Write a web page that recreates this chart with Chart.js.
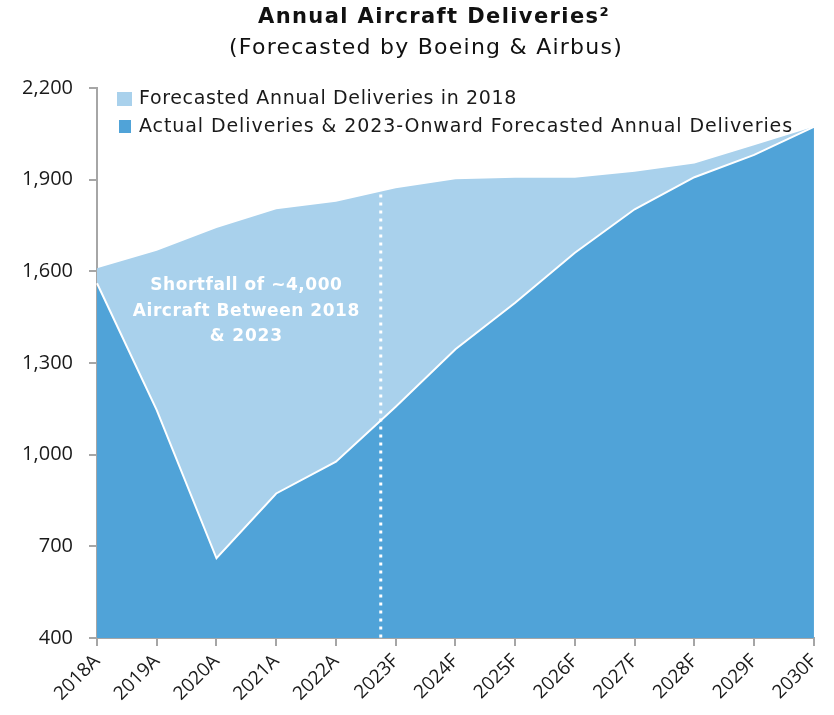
<!DOCTYPE html>
<html>
<head>
<meta charset="utf-8">
<script src="https://cdn.jsdelivr.net/npm/chart.js@4.4.0/dist/chart.umd.min.js"></script>
<style>
  body { margin: 0; background: #fff; }
  #wrap { width: 834px; height: 715px; position: relative; }
</style>
</head>
<body>
<div id="wrap"><canvas id="deliveriesChart"></canvas></div>
<script>
// Chart data
const years = ['2018A', '2019A', '2020A', '2021A', '2022A', '2023F', '2024F',
               '2025F', '2026F', '2027F', '2028F', '2029F', '2030F'];
const forecast2018 = [1610, 1667, 1742, 1803, 1828, 1872, 1901, 1906, 1906, 1926, 1953, 2013, 2073];
const actualAndOnward = [1561, 1146, 661, 873, 977, 1157, 1345, 1497, 1661, 1803, 1908, 1981, 2073];
const yMin = 400;
const yMax = 2200;
const yStep = 300;

const titleText = 'Annual Aircraft Deliveries\u00B2';
const subtitleText = '(Forecasted by Boeing & Airbus)';
const legendLabels = ['Forecasted Annual Deliveries in 2018',
                      'Actual Deliveries & 2023-Onward Forecasted Annual Deliveries'];
const noteLines = ['Shortfall of ~4,000', 'Aircraft Between 2018', '& 2023'];
const cutoffIndex = 4.75;   // dotted marker between 2022A and 2023F

const lightBlue = '#A9D1EC';
const darkBlue = '#50A3D8';
const axisGray = '#A6A6A6';
const fontFamily = "'Open Sans', 'DejaVu Sans', sans-serif";
const wideFamily = "'DejaVu Sans', 'Open Sans', sans-serif";

// draw text nudged (via letter spacing) to the width it has in the reference
function fitText(ctx, text, x, y, width, align) {
    ctx.letterSpacing = '0px';
    const natural = ctx.measureText(text).width;
    ctx.letterSpacing = ((width - natural) / text.length) + 'px';
    const left = align === 'center' ? x - width / 2 : x;
    ctx.textAlign = 'left';
    ctx.fillText(text, left, y);
    ctx.letterSpacing = '0px';
}

// Titles, legend, dotted divider and the shortfall note
const decorations = {
    id: 'decorations',
    afterDatasetsDraw(chart) {
        const ctx = chart.ctx;
        const x = chart.scales.x;
        const y = chart.scales.y;
        const area = chart.chartArea;

        // dotted divider
        const lo = Math.floor(cutoffIndex);
        const frac = cutoffIndex - lo;
        const topVal = forecast2018[lo] + (forecast2018[lo + 1] - forecast2018[lo]) * frac;
        const px = x.getPixelForValue(cutoffIndex);
        ctx.save();
        ctx.strokeStyle = '#ffffff';
        ctx.lineWidth = 3;
        ctx.setLineDash([3, 5]);
        ctx.beginPath();
        ctx.moveTo(px, y.getPixelForValue(topVal) + 3);
        ctx.lineTo(px, area.bottom);
        ctx.stroke();
        ctx.restore();

        // shortfall note
        ctx.save();
        ctx.fillStyle = '#ffffff';
        ctx.font = 'bold 17px ' + wideFamily;
        ctx.textBaseline = 'middle';
        const nx = x.getPixelForValue(2.5);
        const noteWidths = [192, 227, 73];
        noteLines.forEach((line, i) => {
            fitText(ctx, line, nx, 286 + i * 25.5, noteWidths[i], 'center');
        });
        ctx.restore();
    },
    afterDraw(chart) {
        const ctx = chart.ctx;
        ctx.save();
        ctx.fillStyle = '#111111';
        ctx.textBaseline = 'middle';
        ctx.font = 'bold 21px ' + wideFamily;
        fitText(ctx, titleText, 434, 18, 352, 'center');
        ctx.font = '22px ' + wideFamily;
        fitText(ctx, subtitleText, 426, 48, 394, 'center');

        // legend
        ctx.fillStyle = lightBlue;
        ctx.fillRect(117, 92, 15, 14);
        ctx.fillStyle = darkBlue;
        ctx.fillRect(119, 120, 12, 13);
        ctx.fillStyle = '#1a1a1a';
        ctx.font = '19px ' + wideFamily;
        fitText(ctx, legendLabels[0], 139, 99, 378, 'left');
        fitText(ctx, legendLabels[1], 139, 127, 654, 'left');
        ctx.restore();
    }
};

function drawChart() {
    const ctx = document.getElementById('deliveriesChart').getContext('2d');
    return new Chart(ctx, {
        type: 'line',
        data: {
            labels: years,
            datasets: [{
                label: legendLabels[0],
                data: forecast2018,
                backgroundColor: lightBlue,
                borderColor: lightBlue,
                borderWidth: 0,
                pointRadius: 0,
                fill: 'start',
                tension: 0,
                order: 2
            }, {
                label: legendLabels[1],
                data: actualAndOnward,
                backgroundColor: darkBlue,
                borderColor: '#ffffff',
                borderWidth: 2,
                pointRadius: 0,
                fill: 'start',
                tension: 0,
                order: 1
            }]
        },
        options: {
            responsive: true,
            maintainAspectRatio: false,
            animation: false,
            layout: {
                padding: { top: 88, left: 0, right: 17, bottom: 0 }
            },
            plugins: {
                legend: { display: false },
                tooltip: { enabled: false }
            },
            scales: {
                x: {
                    offset: false,
                    grid: {
                        drawOnChartArea: false,
                        drawTicks: true,
                        tickLength: 8,
                        color: axisGray,
                        lineWidth: 2
                    },
                    border: { color: axisGray, width: 2 },
                    ticks: {
                        minRotation: 45,
                        maxRotation: 45,
                        color: '#1a1a1a',
                        font: { family: fontFamily, size: 19 },
                        padding: 4
                    },
                    afterFit(scale) { scale.height = 77; }
                },
                y: {
                    min: yMin,
                    max: yMax,
                    grid: {
                        drawOnChartArea: false,
                        drawTicks: true,
                        tickLength: 8,
                        color: axisGray,
                        lineWidth: 2
                    },
                    border: { color: axisGray, width: 2 },
                    ticks: {
                        stepSize: yStep,
                        color: '#1a1a1a',
                        font: { family: fontFamily, size: 20 },
                        padding: 16
                    },
                    afterFit(scale) { scale.width = 97; }
                }
            }
        },
        plugins: [decorations]
    });
}

// make sure the local fonts are ready before the single (non-animated) draw
Promise.all([
    document.fonts.load("20px 'Open Sans'"),
    document.fonts.load("20px 'DejaVu Sans'"),
    document.fonts.load("bold 20px 'DejaVu Sans'")
]).then(drawChart, drawChart);
</script>
</body>
</html>
